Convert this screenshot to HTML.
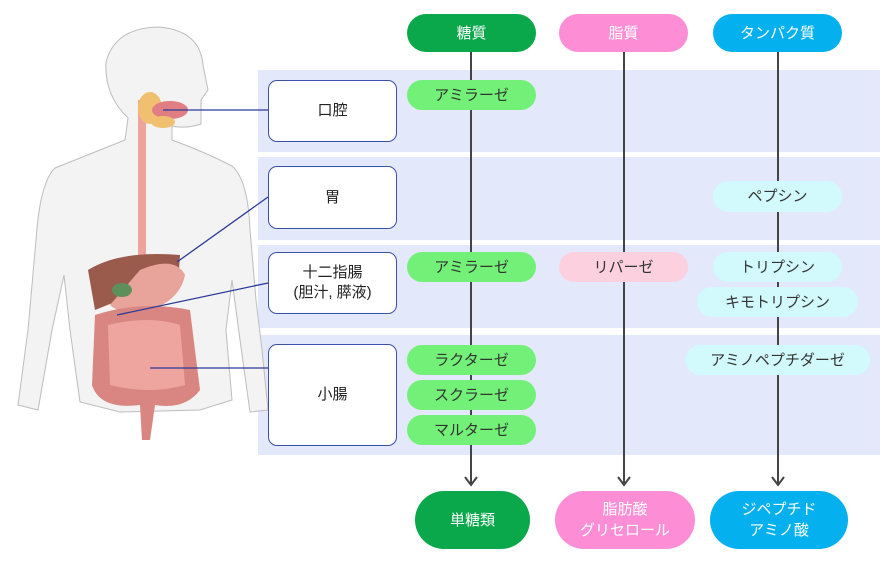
<!DOCTYPE html>
<html><head><meta charset="utf-8"><style>
body{margin:0;width:896px;height:561px;background:#fff;overflow:hidden;font-family:"Liberation Sans","Noto Sans CJK JP",sans-serif;position:relative}
.a{position:absolute;box-sizing:border-box}
.band{background:#e3e8fb}
.org{background:#fff;border:1.5px solid #3a4fa8;border-radius:9px;display:flex;align-items:center;justify-content:center;text-align:center;font-size:15px;color:#222;line-height:20px}
.pill{border-radius:16px;display:flex;align-items:center;justify-content:center;font-size:15px;color:#333;text-align:center;line-height:21px}
.g{background:#73f078}.p{background:#fdd0e0}.c{background:#d2f9fb}
</style></head><body>
<div class="a band" style="left:258px;top:70px;width:622px;height:82px"></div>
<div class="a band" style="left:258px;top:157px;width:622px;height:83px"></div>
<div class="a band" style="left:258px;top:245px;width:622px;height:83px"></div>
<div class="a band" style="left:258px;top:335px;width:622px;height:120px"></div>

<svg class="a" style="left:0;top:0" width="896" height="561">
<g fill="#f3f3f3" stroke="#bdbdbd" stroke-width="1">
<path d="M55 168 Q95 152 125 140 L128 118 Q104 95 106 62 Q115 28 158 27 Q200 30 203 65 L208 90 L201 100 L201 124 Q186 129 172 126 L172 140 Q205 152 232 166 Q248 180 250 230 L256 300 L262 350 L268 410 L250 412 L240 340 L232 280 L226 330 L232 400 L200 410 L120 412 L80 402 L70 330 L64 275 L52 330 L38 410 L18 405 L28 330 L36 240 Q40 182 55 168Z"/>
</g>
<path d="M138 100 L146 100 L146 270 Q146 280 138 276 Z" fill="#eea49c"/>
<ellipse cx="150" cy="108" rx="12" ry="16" fill="#f0c070"/>
<ellipse cx="170" cy="110" rx="18" ry="9" fill="#e07e84"/>
<ellipse cx="163" cy="122" rx="12" ry="6" fill="#f0c070"/>
<path d="M88 270 Q120 250 180 255 L178 285 Q140 290 120 300 L95 310 Z" fill="#9a5a4c"/>
<path d="M140 270 Q175 255 185 275 Q180 300 150 310 Q120 315 110 305 Z" fill="#e8a39a"/>
<ellipse cx="122" cy="290" rx="10" ry="7" fill="#5d8f5a"/>
<path d="M95 315 Q140 300 190 310 L200 390 Q185 410 155 405 L150 440 L142 440 L140 405 Q100 410 92 385 Z" fill="#d98682"/>
<path d="M108 325 Q150 315 180 325 L185 385 Q150 395 110 385 Z" fill="#efa59f"/>
<line x1="163" y1="110" x2="268" y2="110" stroke="#2a3a9a" stroke-width="1.3"/>
<line x1="177" y1="262" x2="268" y2="197" stroke="#2a3a9a" stroke-width="1.3"/>
<line x1="117" y1="315" x2="268" y2="283" stroke="#2a3a9a" stroke-width="1.3"/>
<line x1="150" y1="368" x2="268" y2="368" stroke="#2a3a9a" stroke-width="1.3"/>
<g stroke="#444" stroke-width="2" fill="none">
<line x1="471" y1="50" x2="471" y2="485"/><line x1="624" y1="50" x2="624" y2="485"/><line x1="778" y1="50" x2="778" y2="485"/>
<polyline points="465,477 471,485 477,477"/><polyline points="618,477 624,485 630,477"/><polyline points="772,477 778,485 784,477"/>
</g>
</svg>

<div class="a pill" style="left:407px;top:14px;width:129px;height:38px;border-radius:19px;background:#0aa84a;color:#fff">糖質</div>
<div class="a pill" style="left:559px;top:14px;width:129px;height:38px;border-radius:19px;background:#fd8ed6;color:#fff">脂質</div>
<div class="a pill" style="left:713px;top:14px;width:129px;height:38px;border-radius:19px;background:#05b0ee;color:#fff">タンパク質</div>

<div class="a org" style="left:268px;top:80px;width:129px;height:62px">口腔</div>
<div class="a org" style="left:268px;top:166px;width:129px;height:63px">胃</div>
<div class="a org" style="left:268px;top:252px;width:129px;height:62px">十二指腸<br>(胆汁, 膵液)</div>
<div class="a org" style="left:268px;top:344px;width:129px;height:102px">小腸</div>

<div class="a pill g" style="left:407px;top:80px;width:129px;height:30px">アミラーゼ</div>
<div class="a pill c" style="left:713px;top:181px;width:129px;height:31px">ペプシン</div>
<div class="a pill g" style="left:407px;top:252px;width:129px;height:30px">アミラーゼ</div>
<div class="a pill p" style="left:559px;top:252px;width:129px;height:30px">リパーゼ</div>
<div class="a pill c" style="left:713px;top:252px;width:129px;height:30px">トリプシン</div>
<div class="a pill c" style="left:697px;top:287px;width:161px;height:30px">キモトリプシン</div>
<div class="a pill g" style="left:407px;top:345px;width:129px;height:30px">ラクターゼ</div>
<div class="a pill g" style="left:407px;top:380px;width:129px;height:30px">スクラーゼ</div>
<div class="a pill g" style="left:407px;top:415px;width:129px;height:30px">マルターゼ</div>
<div class="a pill c" style="left:685px;top:345px;width:185px;height:30px">アミノペプチダーゼ</div>

<div class="a pill" style="left:415px;top:491px;width:115px;height:58px;border-radius:29px;background:#0aa84a;color:#fff">単糖類</div>
<div class="a pill" style="left:555px;top:491px;width:140px;height:58px;border-radius:29px;background:#fd8ed6;color:#fff">脂肪酸<br>グリセロール</div>
<div class="a pill" style="left:710px;top:491px;width:138px;height:58px;border-radius:29px;background:#05b0ee;color:#fff">ジペプチド<br>アミノ酸</div>
</body></html>
